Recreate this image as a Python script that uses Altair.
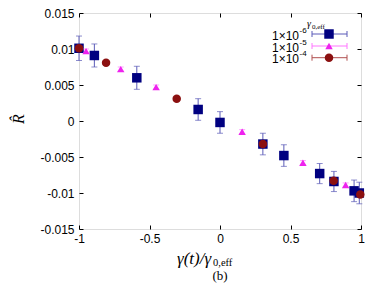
import altair as alt
import pandas as pd

# ---- data ----
blue_x = [-1.0, -0.891, -0.59, -0.155, 0.0, 0.304, 0.453, 0.707, 0.808, 0.951, 0.988]
blue_y = [0.0101, 0.0091, 0.0060, 0.0016, -0.0002, -0.0032, -0.0048, -0.0073, -0.0084, -0.0097, -0.0100]
blue_err = [0.0017, 0.0016, 0.0016, 0.0015, 0.0015, 0.0015, 0.0015, 0.0014, 0.0014, 0.0015, 0.0015]

mag_x = [-0.95, -0.704, -0.453, 0.157, 0.588, 0.891]
mag_y = [0.0097, 0.0072, 0.0047, -0.0015, -0.0058, -0.0089]
mag_err = [0.0003, 0.0003, 0.0003, 0.0003, 0.0003, 0.0003]

red_x = [-1.0, -0.808, -0.307, 0.304, 0.806, 0.995]
red_y = [0.0101, 0.0081, 0.0031, -0.0032, -0.0083, -0.0102]
red_err = [0.0003, 0.0003, 0.0003, 0.0003, 0.0003, 0.0003]

series_labels = ["1\u00d710", "1\u00d710", "1\u00d710"]
series_exps = ["-6", "-5", "-4"]

x_ticks = [-1, -0.5, 0, 0.5, 1]
y_ticks = [-0.015, -0.01, -0.005, 0, 0.005, 0.01, 0.015]

W, H = 282, 216
SANS = "Liberation Sans"
SERIF = "Liberation Serif"

styles = [
    dict(color="#000080", ecolor="#5b5bb8", shape="square", size=90),
    dict(color="#ee22ee", ecolor="#ff77ff", shape="triangle-up", size=55),
    dict(color="#8b1010", ecolor="#b05050", shape="circle", size=72),
]
series = [(blue_x, blue_y, blue_err), (mag_x, mag_y, mag_err), (red_x, red_y, red_err)]

xs = alt.Scale(domain=[-1, 1], nice=False, zero=False)
ys = alt.Scale(domain=[-0.015, 0.015], nice=False, zero=False)

x_axis = alt.Axis(values=x_ticks, labelExpr="'' + datum.value", offset=-4, tickSize=4,
                  domain=False, grid=False, labelPadding=4, labelFont=SANS, labelFontSize=12,
                  labelColor="black", tickColor="black", title=None, labelOverlap=False,
                  labelFlush=False)
y_axis = alt.Axis(values=y_ticks, labelExpr="'' + round(datum.value*1000)/1000", offset=-4,
                  tickSize=4, domain=False, grid=False, labelPadding=5, labelFont=SANS,
                  labelFontSize=12, labelColor="black", tickColor="black", title=None,
                  labelOverlap=False, labelFlush=False)


def X(f):
    return alt.X(f, type="quantitative", scale=xs, axis=x_axis)


def Y(f):
    return alt.Y(f, type="quantitative", scale=ys, axis=y_axis)


layers = []
for (sx, sy, se), st in zip(series, styles):
    df = pd.DataFrame({"x": sx, "y": sy,
                       "lo": [a - b for a, b in zip(sy, se)],
                       "hi": [a + b for a, b in zip(sy, se)]})
    base = alt.Chart(df)
    layers.append(base.mark_rule(color=st["ecolor"], strokeWidth=1).encode(
        x=X("x"), y=Y("lo"), y2="hi"))
    for f in ("lo", "hi"):
        layers.append(base.mark_tick(orient="horizontal", size=6, thickness=1,
                                     color=st["ecolor"]).encode(x=X("x"), y=Y(f)))
    layers.append(base.mark_point(shape=st["shape"], filled=True, size=st["size"],
                                  color=st["color"], opacity=1).encode(x=X("x"), y=Y("y")))

# ---- legend (inside plot, top right) ----
one = pd.DataFrame({"a": [0]})
row_y = [21, 33, 44.7]
for lab, ex, st, ry in zip(series_labels, series_exps, styles, row_y):
    c = alt.Chart(one)
    layers.append(c.mark_text(text=lab, align="right", baseline="middle", font=SANS,
                              fontSize=12, color="black").encode(
        x=alt.value(220), y=alt.value(ry + 1.5)))
    layers.append(c.mark_text(text=ex, align="left", baseline="middle", font=SANS,
                              fontSize=8, color="black").encode(
        x=alt.value(220.5), y=alt.value(ry - 3.5)))
    layers.append(c.mark_rule(color=st["ecolor"], strokeWidth=1).encode(
        x=alt.value(233), x2=alt.value(268), y=alt.value(ry)))
    for cx in (233, 268):
        layers.append(c.mark_rule(color=st["ecolor"], strokeWidth=1).encode(
            x=alt.value(cx), y=alt.value(ry - 3), y2=alt.value(ry + 3)))
    layers.append(c.mark_point(shape=st["shape"], filled=True, size=st["size"],
                               color=st["color"], opacity=1).encode(
        x=alt.value(250), y=alt.value(ry)))

c = alt.Chart(one)
layers.append(c.mark_text(text="\u03b3", align="left", baseline="middle", font=SERIF,
                          fontStyle="italic", fontSize=10, color="black").encode(
    x=alt.value(228), y=alt.value(11)))
layers.append(c.mark_text(text="0,eff", align="left", baseline="middle", font=SERIF,
                          fontSize=7, color="black").encode(
    x=alt.value(233), y=alt.value(14)))

# ---- axis titles ----
layers.append(c.mark_text(text="\u03b3(t)/\u03b3", align="left", baseline="middle", font=SERIF,
                          fontStyle="italic", fontSize=17, color="black").encode(
    x=alt.value(98), y=alt.value(246)))
layers.append(c.mark_text(text="0,eff", align="left", baseline="middle", font=SERIF,
                          fontSize=10.5, color="black").encode(
    x=alt.value(134), y=alt.value(250)))
layers.append(c.mark_text(text="(b)", align="center", baseline="middle", font=SERIF,
                          fontSize=13, color="black").encode(
    x=alt.value(141), y=alt.value(263)))
layers.append(c.mark_text(text="R\u0302", align="center", baseline="middle", font=SERIF,
                          fontStyle="italic", fontSize=16, angle=270, color="black").encode(
    x=alt.value(-60), y=alt.value(106)))

inner = alt.layer(*layers)

mirror_axis_x = alt.Axis(orient="top", values=x_ticks, labels=False, offset=-4, tickSize=4,
                         domain=False, grid=False, tickColor="black", title=None)
mirror_axis_y = alt.Axis(orient="right", values=y_ticks, labels=False, offset=-4, tickSize=4,
                         domain=False, grid=False, tickColor="black", title=None)
mirror = alt.Chart(pd.DataFrame({"x": [0], "y": [0]})).mark_point(opacity=0).encode(
    x=alt.X("x:Q", scale=xs, axis=mirror_axis_x),
    y=alt.Y("y:Q", scale=ys, axis=mirror_axis_y))

chart = alt.layer(inner, mirror).resolve_scale(x="independent", y="independent").properties(
    width=W, height=H,
    autosize=alt.AutoSizeParams(type="none"),
    padding={"left": 71, "top": 5, "right": 13, "bottom": 57},
).configure_view(stroke="black", strokeWidth=1).configure(background="white")

chart.save("out.html", embed_options={"renderer": "svg", "actions": False})
